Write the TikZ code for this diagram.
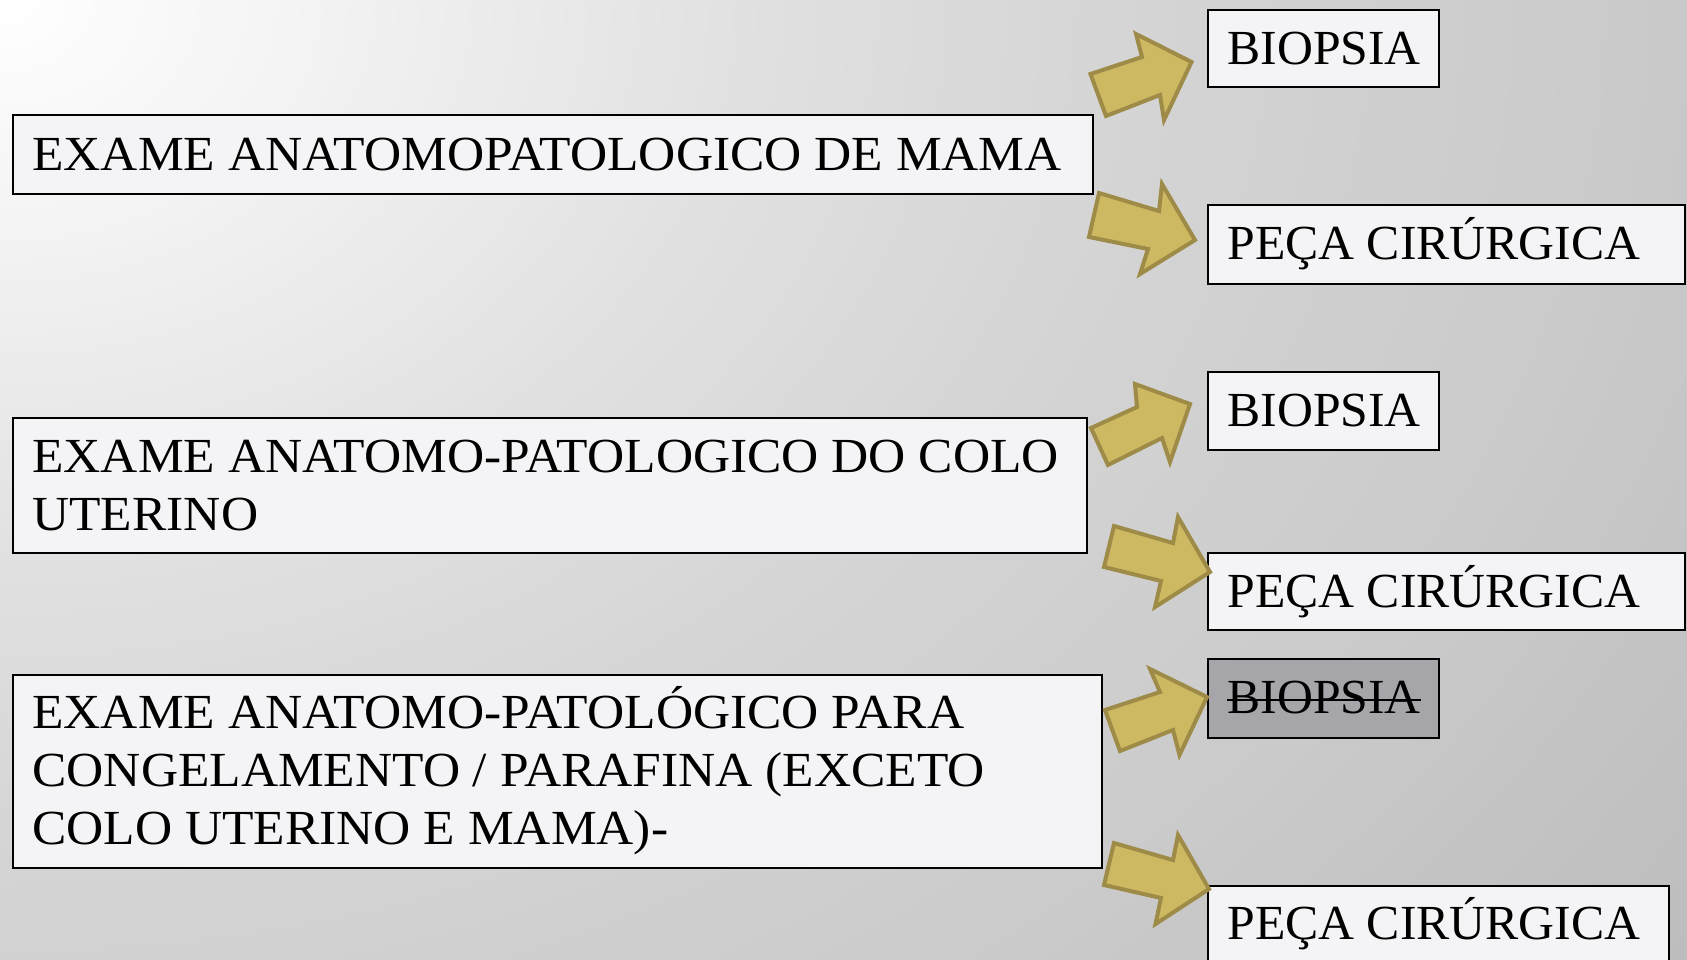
\documentclass[tikz,border=0pt]{standalone}
\usepackage{fontspec}
\setmainfont{Liberation Serif}
\newfontfamily\widefont{Liberation Serif}[FakeStretch=1.05]
\newfontfamily\rightfont{Liberation Serif}[FakeStretch=1.015]
\definecolor{boxfill}{HTML}{F4F4F6}
\definecolor{greyfill}{HTML}{A6A5AA}
\definecolor{arrfill}{HTML}{CDB962}
\definecolor{arrdraw}{HTML}{9D8B47}
\definecolor{bgA}{HTML}{F4F4F4}
\definecolor{bgB}{HTML}{E0E0E0}
\definecolor{bgC}{HTML}{D4D4D4}
\definecolor{bgD}{HTML}{CACACA}
\definecolor{bgE}{HTML}{C2C2C2}
\definecolor{bgF}{HTML}{B8B8B8}
\definecolor{bgG}{HTML}{B0B0B0}
\definecolor{bgH}{HTML}{A8A8A8}
\pgfdeclareradialshading{bgshade}{\pgfpoint{0bp}{0bp}}{color(0bp)=(white); color(3bp)=(bgA); color(8bp)=(bgB); color(12bp)=(bgC); color(17bp)=(bgD); color(20bp)=(bgE); color(24bp)=(bgF); color(30bp)=(bgG); color(50bp)=(bgH)}
\tikzset{
  boxnode/.style={draw=black, line width=1pt, fill=boxfill, inner sep=0pt, anchor=north west},
  txt/.style={inner sep=0pt, anchor=base west, font=\widefont\fontsize{24.5}{29}\selectfont},
  rtxt/.style={inner sep=0pt, anchor=base west, font=\rightfont\fontsize{24.5}{29}\selectfont},
  blockarrow/.style={fill=arrfill, draw=arrdraw, line width=2pt, line join=miter},
}
\begin{document}
\begin{tikzpicture}[x=0.5pt, y=-0.5pt]
\useasboundingbox (0,0) rectangle (1687,959);
\clip (0,0) rectangle (1687,959);
\fill[bgG] (0,0) rectangle (1687,959);
\shade[shading=bgshade] (0,0) ellipse [x radius=2400, y radius=1800];

% left boxes
\node[boxnode, minimum width=540pt, minimum height=39.5pt] (l1) at (12,114) {};
\node[txt] (l1a) at (32,170) {EXAME ANATOMOPATOLOGICO DE MAMA};

\node[boxnode, minimum width=537pt, minimum height=67.5pt] (l2) at (12,417) {};
\node[txt] (l2a) at (32,472) {EXAME ANATOMO-PATOLOGICO DO COLO};
\node[txt] (l2b) at (32,530) {UTERINO};

\node[boxnode, minimum width=544.5pt, minimum height=96.5pt] (l3) at (12,674) {};
\node[txt] (l3a) at (32,728) {EXAME ANATOMO-PATOLÓGICO PARA};
\node[txt] (l3b) at (32,786) {CONGELAMENTO / PARAFINA (EXCETO};
\node[txt] (l3c) at (32,844) {COLO UTERINO E MAMA)-};

% right boxes
\node[boxnode, minimum width=115.5pt, minimum height=38.5pt] (r1) at (1207,9) {};
\node[rtxt] (r1t) at (1227,64) {BIOPSIA};
\node[boxnode, minimum width=238.5pt, minimum height=39.5pt] (r2) at (1207,204) {};
\node[rtxt] (r2t) at (1227,259) {PEÇA CIRÚRGICA};

\node[boxnode, minimum width=115.5pt, minimum height=39pt] (r3) at (1207,371) {};
\node[rtxt] (r3t) at (1227,426) {BIOPSIA};
\node[boxnode, minimum width=238.5pt, minimum height=38.5pt] (r4) at (1207,552) {};
\node[rtxt] (r4t) at (1227,607) {PEÇA CIRÚRGICA};

\node[boxnode, fill=greyfill, minimum width=115.5pt, minimum height=39.5pt] (r5) at (1207,658) {};
\node[rtxt] (r5t) at (1227,713) {BIOPSIA};
\draw[line width=1pt] ([yshift=6.5pt]r5t.base west) -- ([yshift=6.5pt]r5t.base east);
\node[boxnode, minimum width=230.5pt, minimum height=50pt] (r6) at (1207,885) {};
\node[rtxt] (r6t) at (1227,939) {PEÇA CIRÚRGICA};

% block arrows
\draw[blockarrow] (1090.5,74) -- (1142,57) -- (1136,34) -- (1191.5,62) -- (1164,120) -- (1160,95) -- (1106,116) -- cycle;
\draw[blockarrow] (1099,193) -- (1159,211) -- (1162,184) -- (1195,240) -- (1140,274) -- (1148,249) -- (1089,237) -- cycle;
\draw[blockarrow] (1091,428) -- (1137,407) -- (1135,384) -- (1190,404) -- (1170,462) -- (1162,438) -- (1108,465) -- cycle;
\draw[blockarrow] (1114,526) -- (1173,543) -- (1178,517) -- (1210,572) -- (1155,607) -- (1161,581) -- (1104,567) -- cycle;
\draw[blockarrow] (1105,710) -- (1160,692) -- (1150,669) -- (1207,697) -- (1179.5,755) -- (1173,730) -- (1120,751) -- cycle;
\draw[blockarrow] (1114,843) -- (1173,860) -- (1178,835) -- (1209,889) -- (1155.5,924) -- (1161,898) -- (1104,885) -- cycle;
\end{tikzpicture}
\end{document}
